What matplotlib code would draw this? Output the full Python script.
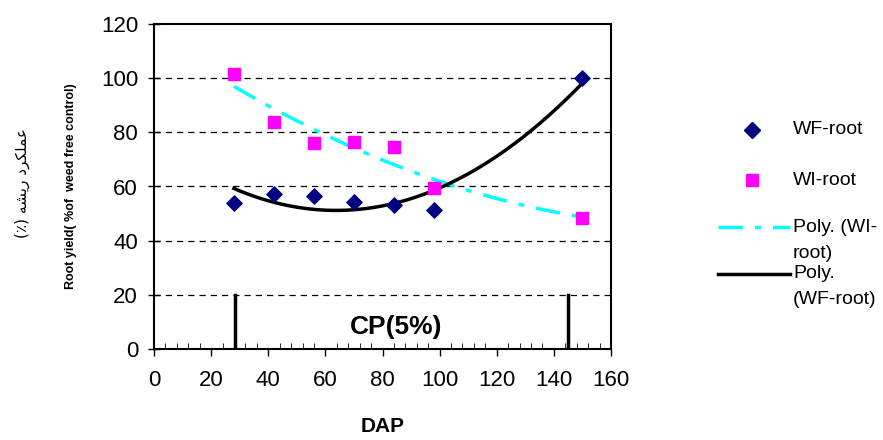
import numpy as np
import matplotlib.pyplot as plt
from matplotlib.lines import Line2D

plt.rcParams['font.family'] = ['Liberation Sans', 'DejaVu Sans']

dap = [28, 42, 56, 70, 84, 98, 150]
wf_root = [53.9, 57.4, 56.6, 54.4, 53.2, 51.4, 100.0]
wi_root = [101.5, 83.8, 75.9, 76.5, 74.7, 59.6, 48.4]
cp_lines = [28.5, 145]
cp_height = 20

W, H = 883, 440
fig = plt.figure(figsize=(W / 100, H / 100), dpi=100)
ax = fig.add_axes([154 / W, 1 - 349 / H, (611 - 154) / W, (349 - 24) / H])

# excel style polynomial (order 2) trendlines
xs = np.linspace(min(dap), max(dap), 200)
wf_fit = np.polyval(np.polyfit(dap, wf_root, 2), xs)
wi_fit = np.polyval(np.polyfit(dap, wi_root, 2), xs)

cyan_dash = (7, 3.5, 1.7, 3.5)
ax.plot(xs, wi_fit, color='cyan', lw=2.5, dashes=cyan_dash, zorder=3)
ax.plot(xs, wf_fit, color='black', lw=2.5, zorder=4)
ax.scatter(dap, wf_root, marker='D', s=60, color='#000080', zorder=5)
ax.scatter(dap, wi_root, marker='s', s=80, color='#ff00ff', zorder=5)

for x in cp_lines:
    ax.plot([x, x], [0, cp_height], color='black', lw=2.5, zorder=4)
ax.text(84.7, 8, 'CP(5%)', ha='center', va='center', fontsize=19, fontweight='bold')

ax.set_xlim(0, 160)
ax.set_ylim(0, 120)
ax.set_xticks(range(0, 161, 20))
ax.set_xticks(range(0, 161, 4), minor=True)
ax.set_yticks(range(0, 121, 20))
ax.tick_params(axis='both', labelsize=16, width=1)
ax.tick_params(axis='x', which='major', direction='out', length=5, pad=10)
ax.tick_params(axis='x', which='minor', direction='in', length=4.5)
ax.tick_params(axis='y', direction='inout', length=9, pad=7)
for y in range(20, 101, 20):
    ax.axhline(y, color='black', lw=0.9, dashes=(5, 4), zorder=1)
for s in ax.spines.values():
    s.set_linewidth(1.5)

ax.set_xlabel('DAP', fontsize=15, fontweight='bold', labelpad=19)
ax.set_ylabel('Root yield( %of  weed free control)', fontsize=9, fontweight='bold', labelpad=17)

# persian label, written in visual order with presentation forms
fa_label = '(\u066a) \ufeea\ufeb8\ufbfe\ufead \ufea9\ufeae\ufb91\ufee0\ufee4\ufecb'
fig.text(22 / W, 1 - 183 / H, fa_label, rotation=90, ha='center', va='center', fontsize=11,
         family=['DejaVu Sans'])

# legend drawn by hand so the line keys sit on the first text line
def fx(px):
    return px / W

def fy(py):
    return 1 - py / H

fig.add_artist(Line2D([fx(752)], [fy(130)], marker='D', ls='none', color='#000080', markersize=8,
                      transform=fig.transFigure))
fig.add_artist(Line2D([fx(752)], [fy(180)], marker='s', ls='none', color='#ff00ff', markersize=9,
                      transform=fig.transFigure))
fig.add_artist(Line2D([fx(718), fx(790)], [fy(227), fy(227)], color='cyan', lw=2.5,
                      dashes=cyan_dash, transform=fig.transFigure))
fig.add_artist(Line2D([fx(718), fx(790)], [fy(274), fy(274)], color='black', lw=2.5,
                      transform=fig.transFigure))
legend_rows = [('WF-root', 130), ('WI-root', 180), ('Poly. (WI-', 227), ('root)', 253),
               ('Poly.', 274), ('(WF-root)', 300)]
for txt, py in legend_rows:
    fig.text(fx(793), fy(py), txt, ha='left', va='center', fontsize=14)

fig.savefig('out.png', dpi=100)
